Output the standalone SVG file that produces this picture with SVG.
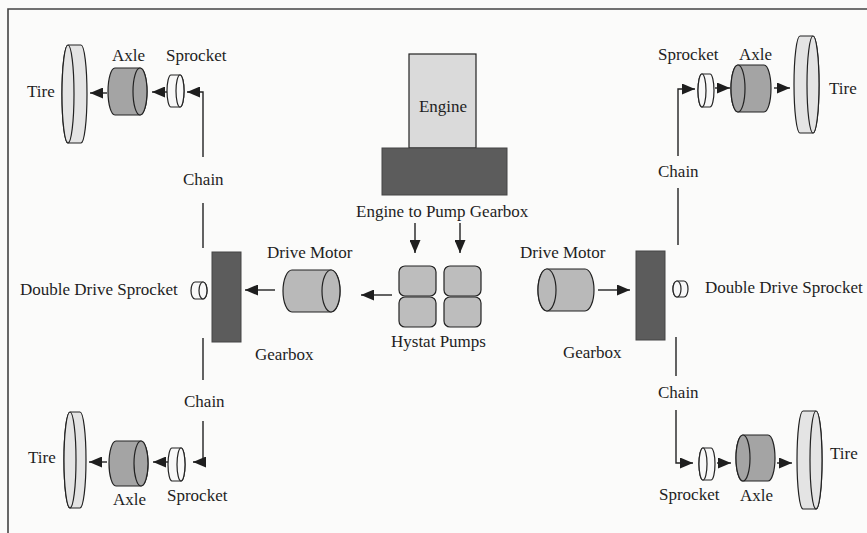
<svg xmlns="http://www.w3.org/2000/svg" width="867" height="533" viewBox="0 0 867 533">
<defs>
<style>
.lbl{font-family:"Liberation Serif","Times New Roman",serif;font-size:17px;fill:#1e1e1e}
.ln{stroke:#222;stroke-width:1.4;fill:none}
.sh{stroke:#222;stroke-width:1.2}
.tire{fill:#e4e4e4}
.axle{fill:#a4a4a4}
.spr{fill:#f8f8f8}
.motor{fill:#b9b9b9}
.pump{fill:#bdbdbd}
.gear{fill:#5c5c5c;stroke:#444;stroke-width:1}
.eng{fill:#dadada}
</style>
<marker id="ah" markerUnits="userSpaceOnUse" markerWidth="13" markerHeight="11" refX="13" refY="5.5" orient="auto">
<path d="M0,0 L13,5.5 L0,11 Z" fill="#1e1e1e"/>
</marker>
</defs>
<rect x="0" y="0" width="867" height="533" fill="#fbfbfa"/>
<path d="M8,533 V9 H867" fill="none" stroke="#444" stroke-width="1.6"/>

<g id="connectors">
<path class="ln" d="M107,93 H90" marker-end="url(#ah)"/>
<path class="ln" d="M167,92 H152" marker-end="url(#ah)"/>
<path class="ln" d="M203,157 V92 H187" marker-end="url(#ah)"/>
<path class="ln" d="M203,203 V248"/>
<path class="ln" d="M678,156 V89 H695" marker-end="url(#ah)"/>
<path class="ln" d="M715,88 H730" marker-end="url(#ah)"/>
<path class="ln" d="M774,88 H790" marker-end="url(#ah)"/>
<path class="ln" d="M678,188 V245"/>
<path class="ln" d="M415,223 V253" marker-end="url(#ah)"/>
<path class="ln" d="M460,223 V253" marker-end="url(#ah)"/>
<path class="ln" d="M392,295 H361" marker-end="url(#ah)"/>
<path class="ln" d="M275,290 H245" marker-end="url(#ah)"/>
<path class="ln" d="M598,290 H630" marker-end="url(#ah)"/>
<path class="ln" d="M203,338 V380"/>
<path class="ln" d="M203,421 V462 H193" marker-end="url(#ah)"/>
<path class="ln" d="M168,462 H153" marker-end="url(#ah)"/>
<path class="ln" d="M107,462 H89" marker-end="url(#ah)"/>
<path class="ln" d="M676,337 V376"/>
<path class="ln" d="M676,410 V463 H693" marker-end="url(#ah)"/>
<path class="ln" d="M717,463 H731" marker-end="url(#ah)"/>
<path class="ln" d="M777,463 H792" marker-end="url(#ah)"/>
</g>

<g id="tire-tl">
<path class="sh tire" d="M68,45 H81 A6,49 0 0 1 81,143 H68 A6,49 0 0 1 68,45 Z"/>
<ellipse class="sh tire" cx="68" cy="94" rx="6" ry="49"/>
<text class="lbl" x="27" y="97">Tire</text>
</g>
<g id="axle-tl">
<path class="sh axle" d="M115,68 H140 A7,23.5 0 0 1 140,115 H115 A7,23.5 0 0 1 115,68 Z"/>
<ellipse class="sh axle" cx="140" cy="91.5" rx="7" ry="23.5"/>
<text class="lbl" x="112" y="61">Axle</text>
</g>
<g id="sprocket-tl">
<path class="sh spr" d="M171,75 H180 A4,16 0 0 1 180,107 H171 A4,16 0 0 1 171,75 Z"/>
<ellipse class="sh spr" cx="180" cy="91" rx="4" ry="16"/>
<text class="lbl" x="166" y="61">Sprocket</text>
</g>
<g id="chain-tl"><text class="lbl" x="183" y="185">Chain</text></g>

<g id="engine">
<rect class="sh eng" x="409" y="54" width="67" height="94"/>
<text class="lbl" x="443" y="112" text-anchor="middle">Engine</text>
</g>
<g id="pump-gearbox">
<rect class="gear" x="382" y="148" width="125" height="47"/>
<text class="lbl" x="356" y="217">Engine to Pump Gearbox</text>
</g>

<g id="sprocket-tr">
<path class="sh spr" d="M702,74 H710 A4,16.5 0 0 1 710,107 H702 A4,16.5 0 0 1 702,74 Z"/>
<ellipse class="sh spr" cx="702" cy="90.5" rx="4" ry="16.5"/>
<text class="lbl" x="658" y="60">Sprocket</text>
</g>
<g id="axle-tr">
<path class="sh axle" d="M738,65 H764 A7,23.5 0 0 1 764,112 H738 A7,23.5 0 0 1 738,65 Z"/>
<ellipse class="sh axle" cx="738" cy="88.5" rx="7" ry="23.5"/>
<text class="lbl" x="739" y="60">Axle</text>
</g>
<g id="tire-tr">
<path class="sh tire" d="M800,36 H813 A6,48.5 0 0 1 813,133 H800 A6,48.5 0 0 1 800,36 Z"/>
<ellipse class="sh tire" cx="813" cy="84.5" rx="6" ry="48.5"/>
<text class="lbl" x="829" y="94">Tire</text>
</g>
<g id="chain-tr"><text class="lbl" x="658" y="177">Chain</text></g>

<g id="dds-left">
<path class="sh spr" d="M195,282 H203 A4,8.5 0 0 1 203,299 H195 A4,8.5 0 0 1 195,282 Z"/>
<ellipse class="sh spr" cx="203" cy="290.5" rx="4" ry="8.5"/>
<text class="lbl" x="20" y="295">Double Drive Sprocket</text>
</g>
<g id="gearbox-left">
<rect class="gear" x="212" y="252" width="29" height="90"/>
<text class="lbl" x="255" y="360">Gearbox</text>
</g>
<g id="motor-left">
<path class="sh motor" d="M292,270 H331 A9,21 0 0 1 331,312 H292 A9,21 0 0 1 292,270 Z"/>
<ellipse class="sh motor" cx="331" cy="291" rx="9" ry="21"/>
<text class="lbl" x="267" y="258">Drive Motor</text>
</g>
<g id="hystat-pumps">
<rect class="sh pump" x="399" y="266" width="37" height="30" rx="6"/>
<rect class="sh pump" x="444" y="266" width="37" height="30" rx="6"/>
<rect class="sh pump" x="399" y="297" width="37" height="30" rx="6"/>
<rect class="sh pump" x="444" y="297" width="37" height="30" rx="6"/>
<text class="lbl" x="391" y="347">Hystat Pumps</text>
</g>
<g id="motor-right">
<path class="sh motor" d="M547,269 H585 A9,21 0 0 1 585,311 H547 A9,21 0 0 1 547,269 Z"/>
<ellipse class="sh motor" cx="547" cy="290" rx="9" ry="21"/>
<text class="lbl" x="520" y="258">Drive Motor</text>
</g>
<g id="gearbox-right">
<rect class="gear" x="636" y="251" width="29" height="89"/>
<text class="lbl" x="563" y="358">Gearbox</text>
</g>
<g id="dds-right">
<path class="sh spr" d="M677,281 H684 A4,8 0 0 1 684,297 H677 A4,8 0 0 1 677,281 Z"/>
<ellipse class="sh spr" cx="677" cy="289" rx="4" ry="8"/>
<text class="lbl" x="705" y="293">Double Drive Sprocket</text>
</g>

<g id="chain-bl"><text class="lbl" x="184" y="407">Chain</text></g>
<g id="tire-bl">
<path class="sh tire" d="M70,412 H80 A6,48 0 0 1 80,508 H70 A6,48 0 0 1 70,412 Z"/>
<ellipse class="sh tire" cx="70" cy="460" rx="6" ry="48"/>
<text class="lbl" x="28" y="463">Tire</text>
</g>
<g id="axle-bl">
<path class="sh axle" d="M116,441 H141 A7,22.5 0 0 1 141,486 H116 A7,22.5 0 0 1 116,441 Z"/>
<ellipse class="sh axle" cx="141" cy="463.5" rx="7" ry="22.5"/>
<text class="lbl" x="113" y="505">Axle</text>
</g>
<g id="sprocket-bl">
<path class="sh spr" d="M172,448 H181 A4,16.5 0 0 1 181,481 H172 A4,16.5 0 0 1 172,448 Z"/>
<ellipse class="sh spr" cx="181" cy="464.5" rx="4" ry="16.5"/>
<text class="lbl" x="167" y="501">Sprocket</text>
</g>

<g id="chain-br"><text class="lbl" x="658" y="398">Chain</text></g>
<g id="sprocket-br">
<path class="sh spr" d="M703,448 H711 A4,16 0 0 1 711,480 H703 A4,16 0 0 1 703,448 Z"/>
<ellipse class="sh spr" cx="703" cy="464" rx="4" ry="16"/>
<text class="lbl" x="659" y="500">Sprocket</text>
</g>
<g id="axle-br">
<path class="sh axle" d="M743,435 H768 A7,23 0 0 1 768,481 H743 A7,23 0 0 1 743,435 Z"/>
<ellipse class="sh axle" cx="743" cy="458" rx="7" ry="23"/>
<text class="lbl" x="740" y="501">Axle</text>
</g>
<g id="tire-br">
<path class="sh tire" d="M803,411 H816 A6,49 0 0 1 816,509 H803 A6,49 0 0 1 803,411 Z"/>
<ellipse class="sh tire" cx="816" cy="460" rx="6" ry="49"/>
<text class="lbl" x="830" y="459">Tire</text>
</g>
</svg>
